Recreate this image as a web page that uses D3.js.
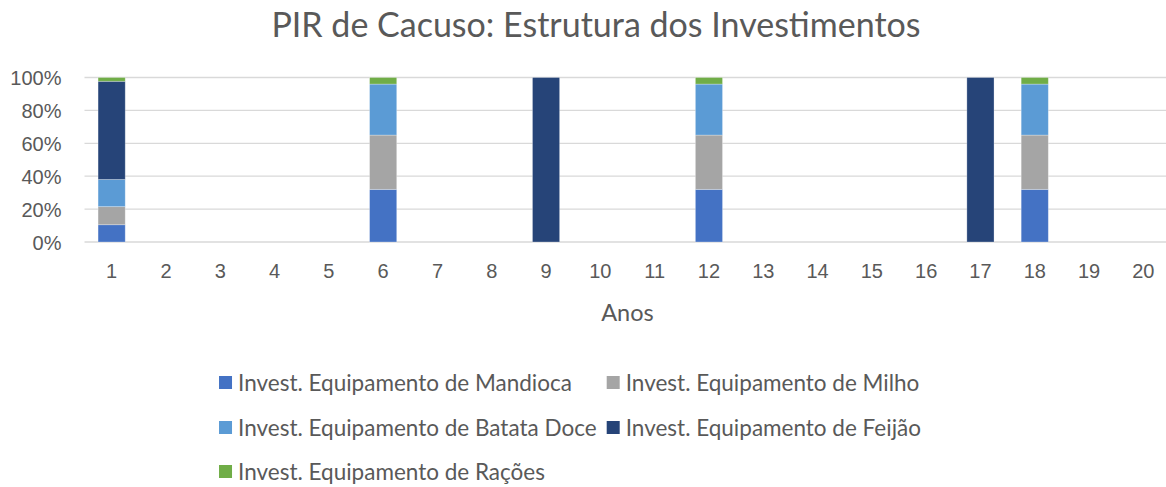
<!DOCTYPE html>
<html lang="pt">
<head>
<meta charset="UTF-8">
<title>PIR de Cacuso: Estrutura dos Investimentos</title>
<style>
  body { margin: 0; padding: 0; background: #fff; }
  svg { display: block; font-family: Lato, "Liberation Sans", sans-serif; }
  .grid line { stroke: #d9d9d9; stroke-width: 1.3; }
  .tick text { fill: #595959; }
</style>
</head>
<body>
<svg id="chart" width="1166" height="487"></svg>
<script src="https://d3js.org/d3.v7.min.js"></script>
<script>
const years = d3.range(1, 21);
const seriesNames = [
  "Invest. Equipamento de Mandioca",
  "Invest. Equipamento de Milho",
  "Invest. Equipamento de Batata Doce",
  "Invest. Equipamento de Feijão",
  "Invest. Equipamento de Rações"
];
const seriesColors = ["#4472c4", "#a5a5a5", "#5b9bd5", "#264478", "#70ad47"];
// share of each investment per year (%), years 1..20
const mandioca   = [10.5,0,0,0,0,32,0,0,0,0,0,32,0,0,0,0,0,32,0,0];
const milho      = [11,0,0,0,0,33,0,0,0,0,0,33,0,0,0,0,0,33,0,0];
const batataDoce = [16.5,0,0,0,0,31,0,0,0,0,0,31,0,0,0,0,0,31,0,0];
const feijao     = [59.7,0,0,0,0,0,0,0,100,0,0,0,0,0,0,0,100,0,0,0];
const racoes     = [2.3,0,0,0,0,4,0,0,0,0,0,4,0,0,0,0,0,4,0,0];
const yTicks = [0, 0.2, 0.4, 0.6, 0.8, 1];

const allSeries = [mandioca, milho, batataDoce, feijao, racoes];
const rows = years.map((y, i) => {
  const r = { year: y };
  seriesNames.forEach((n, j) => r[n] = allSeries[j][i]);
  return r;
});

const svg = d3.select("#chart");
const margin = { left: 84.5, top: 77.5, bottom: 242 };
const plotW = 54.3 * 20;

const x = d3.scaleBand().domain(years).range([margin.left, margin.left + plotW])
  .paddingInner(0.5).paddingOuter(0.25);
const y = d3.scaleLinear().domain([0, 1]).range([margin.bottom, margin.top]);

const stacked = d3.stack().keys(seriesNames).offset(d3.stackOffsetExpand)(rows);

// title
svg.append("text")
  .attr("x", 596).attr("y", 37)
  .attr("text-anchor", "middle")
  .attr("font-size", 34)
  .attr("fill", "#595959")
  .text("PIR de Cacuso: Estrutura dos Investimentos");

// gridlines
svg.append("g").attr("class", "grid")
  .selectAll("line").data(yTicks).join("line")
  .attr("x1", margin.left).attr("x2", margin.left + plotW)
  .attr("y1", d => y(d)).attr("y2", d => y(d));

// y axis labels
const yAxis = svg.append("g")
  .attr("transform", `translate(${margin.left},0)`)
  .call(d3.axisLeft(y).tickValues(yTicks).tickFormat(d3.format(".0%")).tickSize(0).tickPadding(23));
yAxis.select(".domain").remove();
yAxis.selectAll("text").attr("font-size", 20).attr("dy", "0.35em");

// bars
svg.append("g").selectAll("g").data(stacked).join("g")
  .attr("fill", (d, i) => seriesColors[i])
  .selectAll("rect").data(d => d).join("rect")
  .attr("x", d => x(d.data.year))
  .attr("width", x.bandwidth())
  .attr("y", d => y(d[1]))
  .attr("height", d => Math.max(0, y(d[0]) - y(d[1])))
  .attr("stroke", "#fff").attr("stroke-opacity", 0.35).attr("stroke-width", 0.8);

// x axis
const xAxis = svg.append("g")
  .attr("transform", `translate(0,${margin.bottom})`)
  .call(d3.axisBottom(x).tickSize(0).tickPadding(22));
xAxis.select(".domain").remove();
xAxis.selectAll("text").attr("font-size", 20).attr("dy", "0.71em");

svg.append("text")
  .attr("x", margin.left + plotW / 2).attr("y", 321)
  .attr("text-anchor", "middle")
  .attr("font-size", 23.5)
  .attr("fill", "#595959")
  .text("Anos");

// legend: two columns, three rows
const legend = svg.append("g");
const items = legend.selectAll("g").data(seriesNames).join("g");
items.append("rect").attr("width", 13).attr("height", 13).attr("y", -7)
  .attr("fill", (d, i) => seriesColors[i]);
items.append("text").attr("x", 19).attr("dy", "0.35em")
  .attr("font-size", 22.5).attr("fill", "#595959").text(d => d);
const widths = [];
items.each(function (d, i) { widths[i] = this.getBBox().width; });
const col0 = d3.max(widths.filter((w, i) => i % 2 === 0));
const col1 = d3.max(widths.filter((w, i) => i % 2 === 1));
const gap = 10;
const total = col0 + gap + col1;
const startX = 570 - total / 2;
const rowY = [383, 428, 472];
items.attr("transform", (d, i) =>
  `translate(${i % 2 === 0 ? startX : startX + col0 + gap},${rowY[Math.floor(i / 2)]})`);
</script>
</body>
</html>
